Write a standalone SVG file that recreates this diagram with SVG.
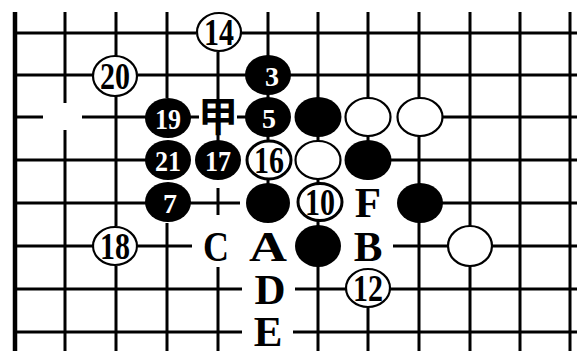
<svg xmlns="http://www.w3.org/2000/svg" width="577" height="351" viewBox="0 0 577 351">
<style>
.g{stroke:#000;stroke-width:3;fill:none}
.b{fill:#000}
.w{fill:#fff;stroke:#000;stroke-width:2.2}
.n{font-family:"Liberation Serif",serif;font-weight:bold;font-size:37px;text-anchor:middle}
.nb{fill:#000}
.nw{fill:#fff}
.L{font-family:"Liberation Serif",serif;font-weight:bold;font-size:43px;text-anchor:middle;fill:#000}
.K{font-family:"Noto Sans CJK SC",sans-serif;font-weight:bold;font-size:40px;text-anchor:middle;fill:#000}
</style>
<rect width="577" height="351" fill="#fff"/>
<g id="grid">
<path class="g" d="M15 12V351" style="stroke-width:4.5"/>
<path class="g" d="M65 12V103M65 130V351M116 12V56M116 96V226M116 266V351M167 12V98M167 223V351M218 52V100M218 133V141M218 188V215M218 267V351M268 12V185M318 12V351M368 12V180M368 308V351M419 12V351M470 12V351M520 12V351M570 12V351"/>
<path class="g" d="M15 33H196M240 33H577M15 75H93M138 75H246M290 75H577M15 117H43M82 117H146M190 117H199M237 117H246M442 117H577M15 160H146M390 160H577M15 203H146M190 203H240M442 203H577M15 246H93M138 246H192M393 246H448M492 246H577M15 289H242M295 289H346M390 289H577M15 332H242M293 332H577"/>
</g>
<g id="s14"><ellipse class="w" cx="219" cy="32" rx="22" ry="19"/><text class="n nb" x="219" y="45" textLength="30" lengthAdjust="spacingAndGlyphs">14</text></g>
<g id="s20"><ellipse class="w" cx="115" cy="76" rx="22" ry="20"/><text class="n nb" x="115" y="89" textLength="30" lengthAdjust="spacingAndGlyphs">20</text></g>
<g id="s3"><ellipse class="b" cx="268" cy="75" rx="23" ry="20"/><text class="n nw" x="272" y="86" style="font-size:28px">3</text></g>
<g id="s19"><ellipse class="b" cx="168" cy="118" rx="23" ry="20"/><text class="n nw" x="168" y="129" style="font-size:30px" textLength="26" lengthAdjust="spacingAndGlyphs">19</text></g>
<g id="jia"><text class="K" x="218" y="131">甲</text></g>
<g id="s5"><ellipse class="b" cx="268" cy="117" rx="23" ry="20"/><text class="n nw" x="269" y="128" style="font-size:28px">5</text></g>
<g id="b318_117"><ellipse class="b" cx="318" cy="117" rx="23.5" ry="20"/></g>
<g id="w368_117"><ellipse class="w" cx="368" cy="117" rx="22.5" ry="19"/></g>
<g id="w419_117"><ellipse class="w" cx="420" cy="117" rx="22.5" ry="19"/></g>
<g id="s21"><ellipse class="b" cx="168" cy="160" rx="23" ry="20"/><text class="n nw" x="168" y="171" style="font-size:30px" textLength="26" lengthAdjust="spacingAndGlyphs">21</text></g>
<g id="s17"><ellipse class="b" cx="218" cy="160" rx="23" ry="20"/><text class="n nw" x="218" y="171" style="font-size:30px" textLength="26" lengthAdjust="spacingAndGlyphs">17</text></g>
<g id="s16"><ellipse class="w" cx="269" cy="160" rx="22" ry="19" style="stroke-width:3"/><text class="n nb" x="269" y="173" textLength="30" lengthAdjust="spacingAndGlyphs">16</text></g>
<g id="w318_160"><ellipse class="w" cx="318" cy="160" rx="22.5" ry="19"/></g>
<g id="b368_160"><ellipse class="b" cx="368" cy="160" rx="23.5" ry="20"/></g>
<g id="s7"><ellipse class="b" cx="168" cy="202" rx="23" ry="20"/><text class="n nw" x="170" y="213" style="font-size:28px">7</text></g>
<g id="b268_203"><ellipse class="b" cx="268" cy="203" rx="22" ry="20"/></g>
<g id="s10"><ellipse class="w" cx="320" cy="202" rx="22" ry="18.5" style="stroke-width:3"/><text class="n nb" x="320" y="215" textLength="30" lengthAdjust="spacingAndGlyphs">10</text></g>
<g id="F"><text class="L" x="368" y="217">F</text></g>
<g id="b419_203"><ellipse class="b" cx="420" cy="203" rx="23" ry="20"/></g>
<g id="s18"><ellipse class="w" cx="115" cy="246" rx="22" ry="19"/><text class="n nb" x="115" y="259" textLength="30" lengthAdjust="spacingAndGlyphs">18</text></g>
<g id="C"><text class="L" x="216" y="261" textLength="26" lengthAdjust="spacingAndGlyphs">C</text></g>
<g id="A"><text class="L" x="268" y="261" textLength="38" lengthAdjust="spacingAndGlyphs">A</text></g>
<g id="b318_246"><ellipse class="b" cx="318" cy="246" rx="23" ry="21"/></g>
<g id="B"><text class="L" x="368" y="261">B</text></g>
<g id="w470_246"><ellipse class="w" cx="470" cy="246" rx="22" ry="20"/></g>
<g id="D"><text class="L" x="270" y="304">D</text></g>
<g id="s12"><ellipse class="w" cx="368" cy="288" rx="22" ry="19"/><text class="n nb" x="368" y="301" textLength="30" lengthAdjust="spacingAndGlyphs">12</text></g>
<g id="E"><text class="L" x="268" y="346">E</text></g>
</svg>
